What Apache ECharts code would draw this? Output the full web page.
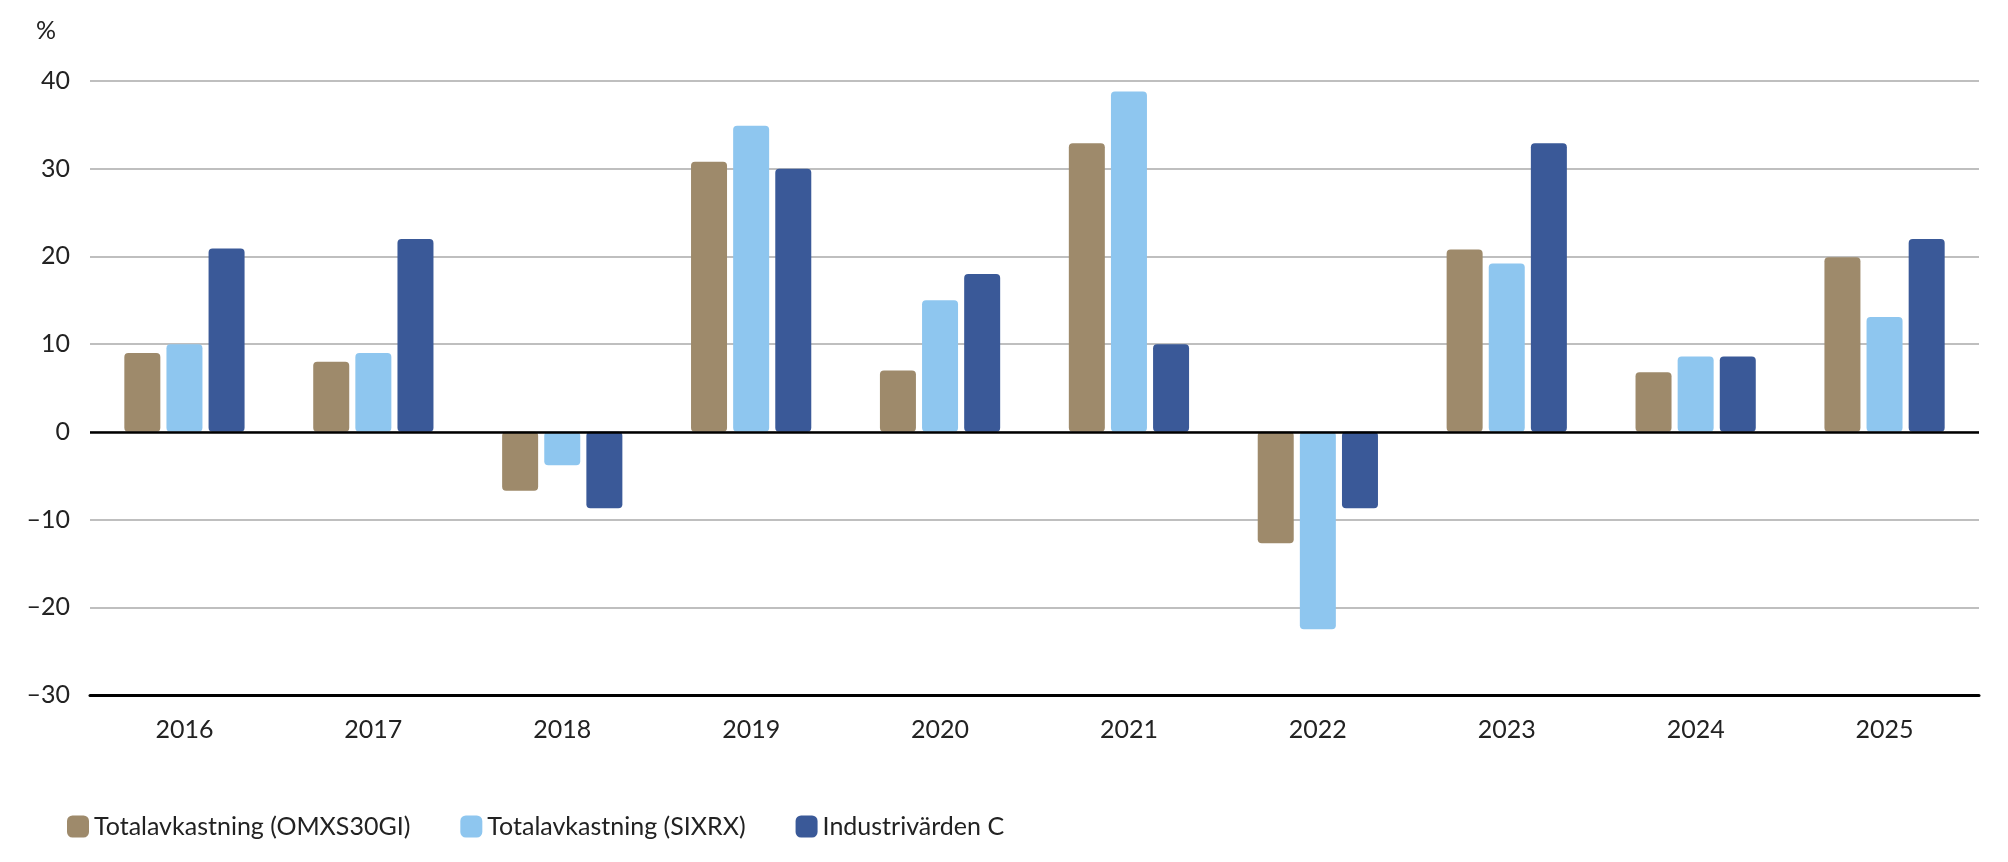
<!DOCTYPE html>
<html>
<head>
<meta charset="utf-8">
<script src="https://cdn.jsdelivr.net/npm/echarts@6/dist/echarts.min.js"></script>
<style>html,body{margin:0;padding:0;background:#fff}#main{width:2008px;height:862px}</style>
</head>
<body>
<div id="main"></div>
<script>
    var years = ['2016','2017','2018','2019','2020','2021','2022','2023','2024','2025'];
    var omx = [9, 8, -6.7, 30.8, 7, 32.9, -12.7, 20.8, 6.8, 19.9];
    var sixrx = [10, 9, -3.8, 34.9, 15, 38.8, -22.5, 19.2, 8.6, 13.1];
    var indu = [20.9, 22, -8.7, 30, 18, 10, -8.7, 32.9, 8.6, 22];
    var names = ['Totalavkastning (OMXS30GI)', 'Totalavkastning (SIXRX)', 'Industrivärden C'];
    var colors = ['#9e8a6b', '#8ec6ef', '#3a5998'];

    var font = 'Lato, "Noto Sans", sans-serif';
    function bar(name, data, color) {
        return {
            name: name, type: 'bar', data: data,
            barWidth: 36, barGap: '17%',
            itemStyle: { color: color, borderRadius: 4 }
        };
    }
    var myChart = echarts.init(document.getElementById('main'));
    myChart.setOption({
        animation: false,
        color: colors,
        grid: { left: 90, right: 29, top: 81, bottom: 167 },
        legend: {
            bottom: 18, left: 62, itemWidth: 22, itemHeight: 22, itemGap: 50,
            icon: 'roundRect',
            textStyle: { fontFamily: font, fontSize: 25, color: '#222' },
            data: names
        },
        graphic: [{ type: 'text', left: 36, top: 18, style: { text: '%', fontFamily: font, fontSize: 25, fill: '#222' } }],
        xAxis: {
            type: 'category', data: years, position: 'bottom',
            axisLine: { onZero: false, lineStyle: { color: '#000', width: 3 } },
            axisTick: { show: false },
            axisLabel: { fontFamily: font, fontSize: 25, color: '#222', margin: 22 }
        },
        yAxis: {
            type: 'value', min: -30, max: 40, interval: 10,
            axisLine: { show: false }, axisTick: { show: false },
            axisLabel: { fontFamily: font, fontSize: 25, color: '#222', margin: 20,
                formatter: function (v) { return v < 0 ? '\u2013' + (-v) : v; } },
            splitLine: { lineStyle: { color: '#aaa', width: 1.5 } }
        },
        series: [
            bar(names[0], omx, colors[0]),
            bar(names[1], sixrx, colors[1]),
            Object.assign(bar(names[2], indu, colors[2]), {
                markLine: { silent: true, symbol: 'none', label: { show: false },
                    lineStyle: { color: '#000', width: 2.5, type: 'solid' }, data: [{ yAxis: 0 }] }
            })
        ]
    });
</script>
</body>
</html>
